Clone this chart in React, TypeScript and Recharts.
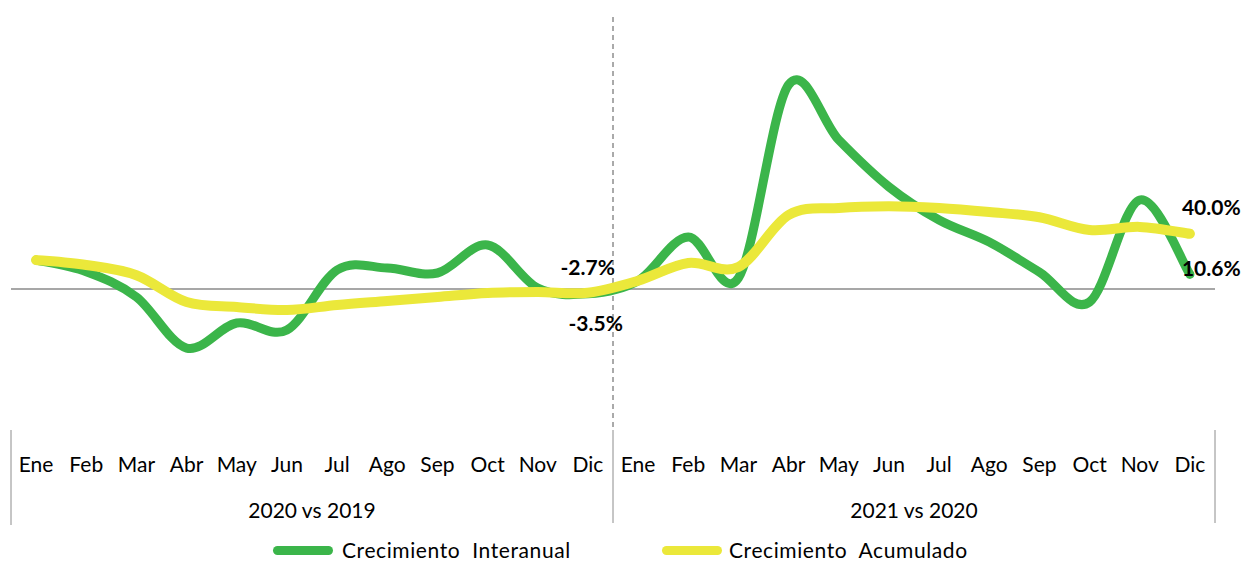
import React from "react";
import { LineChart, Line, XAxis, YAxis, ReferenceLine, Legend, LabelList } from "recharts";

const months = ["Ene", "Feb", "Mar", "Abr", "May", "Jun", "Jul", "Ago", "Sep", "Oct", "Nov", "Dic"];
const periods = ["2020 vs 2019", "2021 vs 2020"];
const interanual = [21, 12.5, -5.8, -42.8, -24.6, -29.7, 13.8, 15.2, 11.6, 31.9, 0.7, -3.5,
  6, 37.7, 8, 148, 108, 74, 50, 34, 12.3, -9.4, 64.5, 10.6];
const acumulado = [21, 17.4, 10, -9.4, -13, -15.2, -11.6, -8.7, -5.8, -2.9, -2.2, -2.7,
  6, 18.8, 16, 53.6, 58.7, 60, 58.7, 55.8, 52, 42.8, 45, 40.0];
const seriesNames = ["Crecimiento  Interanual", "Crecimiento  Acumulado"];
const labelIndexes = [11, 23];

const data = periods.flatMap((p, pi) =>
  months.map((m, mi) => ({
    key: `${m}-${pi}`,
    month: m,
    period: p,
    interanual: interanual[pi * 12 + mi],
    acumulado: acumulado[pi * 12 + mi],
  }))
);

const W = 1244;
const H = 561;
const MARGIN = { top: 13, right: 29, left: 11, bottom: 0 };
const BAND = (W - MARGIN.left - MARGIN.right) / data.length;
const GREEN = "#3BB54A";
const YELLOW = "#EBE83A";
const FONT = "Lato, 'Open Sans', sans-serif";

// Excel-like smoothed line (Catmull-Rom through points)
const excelCurve = (context: any) => {
  let pts: number[][] = [];
  return {
    areaStart() {},
    areaEnd() {},
    lineStart() {
      pts = [];
    },
    point(x: number, y: number) {
      pts.push([+x, +y]);
    },
    lineEnd() {
      if (!pts.length) return;
      context.moveTo(pts[0][0], pts[0][1]);
      for (let i = 0; i < pts.length - 1; i++) {
        const p0 = pts[i - 1] || pts[i];
        const p1 = pts[i];
        const p2 = pts[i + 1];
        const p3 = pts[i + 2] || pts[i + 1];
        context.bezierCurveTo(
          p1[0] + (p2[0] - p0[0]) / 6,
          p1[1] + (p2[1] - p0[1]) / 6,
          p2[0] - (p3[0] - p1[0]) / 6,
          p2[1] - (p3[1] - p1[1]) / 6,
          p2[0],
          p2[1]
        );
      }
    },
  };
};

const MonthTick = (props: any) => {
  const { x, y, payload, index } = props;
  const row = data[index] || data.find((d) => d.key === payload.value);
  const i = data.indexOf(row);
  const sepColor = "#8c8c8c";
  const els: any[] = [];
  els.push(
    <text key="m" x={x} y={y + 45} textAnchor="middle" fontFamily={FONT} fontSize={21} fill="#000">
      {row.month}
    </text>
  );
  if (i === 0) {
    els.push(<line key="s0" x1={x - BAND / 2} x2={x - BAND / 2} y1={y + 3} y2={y + 98} stroke={sepColor} strokeWidth={1} />);
  }
  if (i % 12 === 11) {
    els.push(<line key="s1" x1={x + BAND / 2} x2={x + BAND / 2} y1={y + 3} y2={y + 96} stroke={sepColor} strokeWidth={1} />);
  }
  if (i % 12 === 5) {
    els.push(
      <text key="p" x={x + BAND / 2} y={y + 91} textAnchor="middle" fontFamily={FONT} fontSize={21} fill="#000">
        {row.period}
      </text>
    );
  }
  return <g>{els}</g>;
};

const makeLabel = (series: "interanual" | "acumulado") => (props: any) => {
  const { index, value } = props;
  const x = props.x ?? props.viewBox?.x;
  const y = props.y ?? props.viewBox?.y;
  if (!labelIndexes.includes(index)) return null;
  const text = `${Number(value).toFixed(1)}%`;
  let tx = x, ty = y, anchor = "start";
  if (index === 11) {
    if (series === "acumulado") {
      tx = x + 27; ty = y - 18; anchor = "end";
    } else {
      tx = x + 35; ty = y + 37; anchor = "end";
    }
  } else {
    if (series === "acumulado") {
      tx = x - 8; ty = y - 19;
    } else {
      tx = x - 8; ty = y + 2;
    }
  }
  return (
    <text x={tx} y={ty} textAnchor={anchor} fontFamily={FONT} fontWeight={700} fontSize={21} fill="#000">
      {text}
    </text>
  );
};

const legendText = { position: "absolute" as const, top: 3, whiteSpace: "pre" as const, lineHeight: "28px", letterSpacing: 0.6 };

const LegendBox = () => (
  <div style={{ position: "relative", height: 28, fontFamily: FONT, fontSize: 21, color: "#000" }}>
    <div style={{ position: "absolute", left: 273 - MARGIN.left, top: 13, width: 60, height: 9, borderRadius: 5, background: GREEN }} />
    <div style={{ ...legendText, left: 342 - MARGIN.left }}>{seriesNames[0]}</div>
    <div style={{ position: "absolute", left: 662 - MARGIN.left, top: 13, width: 60, height: 9, borderRadius: 5, background: YELLOW }} />
    <div style={{ ...legendText, left: 729 - MARGIN.left }}>{seriesNames[1]}</div>
  </div>
);

export default function App() {
  return (
    <div style={{ position: "absolute", left: 0, top: 0, width: W, height: H, background: "#fff" }}>
      <LineChart width={W} height={H} data={data} margin={MARGIN}>
        <XAxis
          dataKey="key"
          scale="band"
          interval={0}
          tickLine={false}
          axisLine={false}
          tickSize={0}
          tickMargin={0}
          height={106}
          tick={<MonthTick />}
        />
        <YAxis hide domain={[-100, 200]} type="number" allowDataOverflow />
        <ReferenceLine y={0} stroke="#8a8a8a" strokeWidth={1.5} />
        <ReferenceLine x={data[11].key} position="end" stroke="#555" strokeDasharray="5 4" strokeWidth={1} />
        <Line
          dataKey="interanual"
          name={seriesNames[0]}
          type={excelCurve as any}
          stroke={GREEN}
          strokeWidth={9}
          strokeLinecap="round"
          dot={false}
          activeDot={false}
          isAnimationActive={false}
        >
          <LabelList dataKey="interanual" content={makeLabel("interanual")} />
        </Line>
        <Line
          dataKey="acumulado"
          name={seriesNames[1]}
          type={excelCurve as any}
          stroke={YELLOW}
          strokeWidth={10}
          strokeLinecap="round"
          dot={false}
          activeDot={false}
          isAnimationActive={false}
        >
          <LabelList dataKey="acumulado" content={makeLabel("acumulado")} />
        </Line>
        <Legend verticalAlign="bottom" content={() => <LegendBox />} />
      </LineChart>
    </div>
  );
}
